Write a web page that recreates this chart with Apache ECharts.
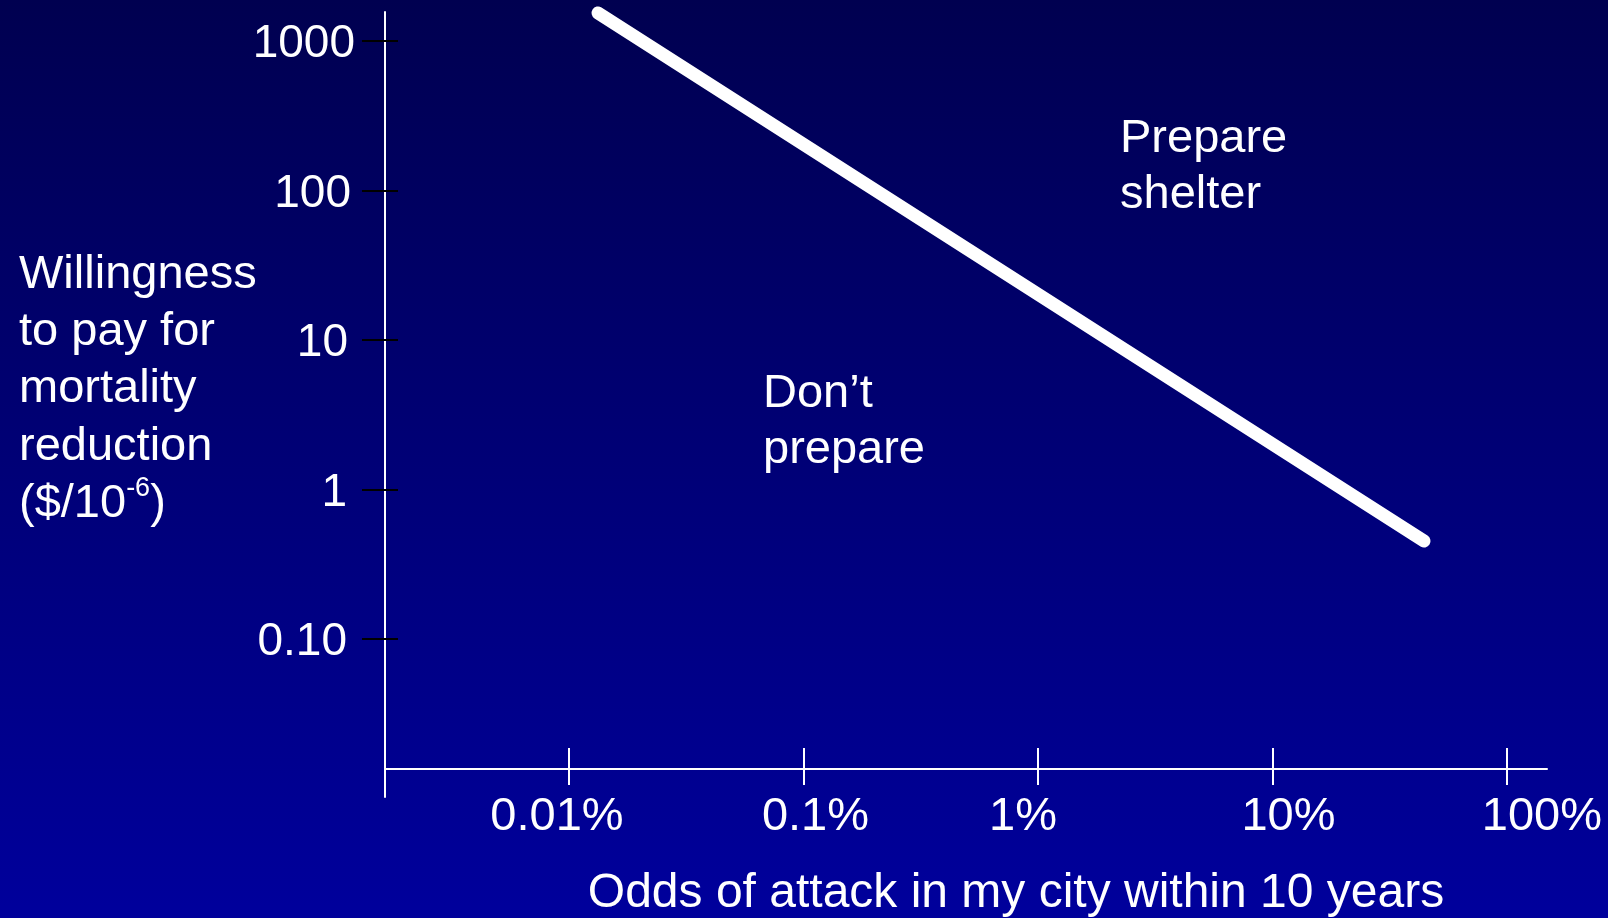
<!DOCTYPE html>
<html>
<head>
<meta charset="utf-8">
<script src="https://cdn.jsdelivr.net/npm/echarts@6/dist/echarts.min.js"></script>
<style>
html,body{margin:0;padding:0;width:1608px;height:918px;overflow:hidden;background:linear-gradient(#000050,#00009c);}
#chart{width:1608px;height:918px;}
</style>
</head>
<body>
<div id="chart"></div>
<script>
// ---- data ----
const xTickValues = [0.01, 0.1, 1, 10, 100];           // odds, %
const xTickLabels = ['0.01%', '0.1%', '1%', '10%', '100%'];
const yTickValues = [0.1, 1, 10, 100, 1000];           // $ per 10^-6
const yTickLabels = ['0.10', '1', '10', '100', '1000'];
const oddsPercent = [0.0133, 44.3];
const willingness = [1540, 0.452];
const xRange = [0.001642, 148.2];
const yRange = [0.00877, 1563];

// ---- layout / style ----
const FONT = "'Liberation Sans', Arial, Helvetica, sans-serif";
const lg = Math.log10;
const xShift = [-12, 12, -15, 16, 35];     // label nudges (px)
const yPadRight = [8, 8, 7, 4, 0];

function idxOf(vals, v) {
  for (let i = 0; i < vals.length; i++) if (Math.abs(lg(vals[i]) - v) < 1e-6) return i;
  return -1;
}
const xRich = {}, yRich = {};
xShift.forEach((s, i) => {
  xRich['s' + i] = {fontSize: 47, fontFamily: FONT, color: '#fff',
    padding: s < 0 ? [0, -2 * s, 0, 0] : [0, 0, 0, 2 * s]};
});
yPadRight.forEach((p, i) => {
  yRich['s' + i] = {fontSize: 46, fontFamily: FONT, color: '#fff', padding: [7, p, 0, 0]};
});

const xMin = lg(xRange[0]), xMax = lg(xRange[1]);
const yMin = lg(yRange[0]), yMax = lg(yRange[1]);
const xTicks = xTickValues.map(lg), yTicks = yTickValues.map(lg);

const chart = echarts.init(document.getElementById('chart'), null, {renderer: 'canvas'});
const option = {
  backgroundColor: {type: 'linear', x: 0, y: 0, x2: 0, y2: 1,
    colorStops: [{offset: 0, color: '#000050'}, {offset: 1, color: '#00009c'}]},
  animation: false,
  grid: {left: 385, right: 61, top: 12, bottom: 121, containLabel: false},
  xAxis: [{
    type: 'value', position: 'bottom', offset: -28, min: xMin, max: xMax,
    axisLine: {show: true, onZero: false, lineStyle: {color: '#fff', width: 2}},
    axisTick: {show: true, inside: true, length: 21, customValues: xTicks,
      lineStyle: {color: '#fff', width: 2}},
    axisLabel: {show: true, margin: 25, customValues: xTicks, fontSize: 47, fontFamily: FONT, color: '#fff',
      formatter: v => { const i = idxOf(xTickValues, v); return i < 0 ? '' : '{s' + i + '|' + xTickLabels[i] + '}'; },
      rich: xRich},
    splitLine: {show: false}
  }, {
    type: 'value', position: 'bottom', offset: -28, min: xMin, max: xMax,
    axisLine: {show: false, onZero: false},
    axisTick: {show: true, inside: false, length: 16, customValues: xTicks,
      lineStyle: {color: '#fff', width: 2}},
    axisLabel: {show: false},
    splitLine: {show: false}
  }],
  yAxis: [{
    type: 'value', position: 'left', min: yMin, max: yMax,
    axisLine: {show: true, onZero: false, lineStyle: {color: '#fff', width: 2}},
    axisTick: {show: true, inside: false, length: 23, customValues: yTicks,
      lineStyle: {color: '#000', width: 2}},
    axisLabel: {show: true, margin: 30, customValues: yTicks, fontSize: 46, fontFamily: FONT, color: '#fff',
      formatter: v => { const i = idxOf(yTickValues, v); return i < 0 ? '' : '{s' + i + '|' + yTickLabels[i] + '}'; },
      rich: yRich},
    splitLine: {show: false}
  }, {
    type: 'value', position: 'left', min: yMin, max: yMax,
    axisLine: {show: false, onZero: false},
    axisTick: {show: true, inside: true, length: 13, customValues: yTicks,
      lineStyle: {color: '#000', width: 2}},
    axisLabel: {show: false},
    splitLine: {show: false}
  }],
  series: [{
    type: 'line', xAxisIndex: 0, yAxisIndex: 0, clip: false,
    symbol: 'none', silent: true,
    lineStyle: {color: '#fff', width: 13, cap: 'round'},
    data: oddsPercent.map((x, i) => [lg(x), lg(willingness[i])]),
    z: 5
  }],
  graphic: [
    {type: 'text', left: 19, top: 246, silent: true,
      style: {text: 'Willingness\nto pay for\nmortality\nreduction\n($/10{sup|-6})',
        fill: '#fff', fontSize: 47, fontFamily: FONT, lineHeight: 57.3,
        rich: {sup: {fontSize: 27, fontFamily: FONT, fill: '#fff', verticalAlign: 'top', lineHeight: 43}}}},
    {type: 'text', left: 1120, top: 111, silent: true,
      style: {text: 'Prepare\nshelter', fill: '#fff', fontSize: 47, fontFamily: FONT, lineHeight: 56}},
    {type: 'text', left: 763, top: 366, silent: true,
      style: {text: 'Don\u2019t\nprepare', fill: '#fff', fontSize: 47, fontFamily: FONT, lineHeight: 56}},
    {type: 'text', x: 1016, y: 894, silent: true,
      style: {text: 'Odds of attack in my city within 10 years', fill: '#fff', fontSize: 48, fontFamily: FONT,
        align: 'center', verticalAlign: 'middle'}}
  ]
};
chart.setOption(option);
</script>
</body>
</html>
